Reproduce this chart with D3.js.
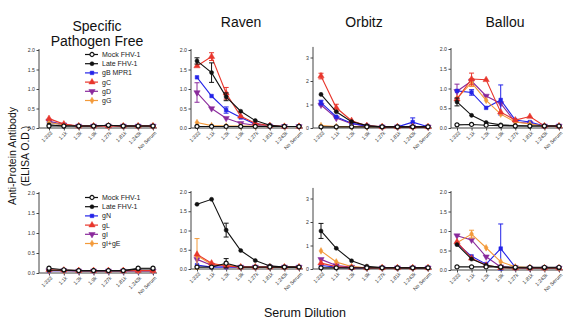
<!DOCTYPE html>
<html>
<head>
<meta charset="utf-8">
<script src="https://cdn.jsdelivr.net/npm/d3@7"></script>
<style>
  body { margin: 0; background: #fff; }
  svg { display: block; font-family: "Liberation Sans", Arial, sans-serif; }
</style>
</head>
<body>
<svg id="chart" width="566" height="322"></svg>
<script>
// dilution categories (x axis)
const dilutions = ["1:333", "1:1k", "1:3k", "1:9k", "1:27k", "1:81k", "1:243k", "No Serum"];

// series names per row
const seriesTop = ["Mock FHV-1", "Late FHV-1", "gB MPR1", "gC", "gD", "gG"];
const seriesBottom = ["Mock FHV-1", "Late FHV-1", "gN", "gL", "gI", "gI+gE"];

const panelTitles = ["Specific|Pathogen Free", "Raven", "Orbitz", "Ballou"];

// values, one row per series (mock, late, then the four proteins)
const spfTop = [
  [0.05, 0.05, 0.05, 0.05, 0.07, 0.05, 0.05, 0.05],
  [0.08, 0.05, 0.05, 0.05, 0.07, 0.05, 0.05, 0.05],
  [0.15, 0.08, 0.05, 0.05, 0.05, 0.05, 0.05, 0.05],
  [0.24, 0.10, 0.05, 0.05, 0.05, 0.05, 0.05, 0.05],
  [0.18, 0.08, 0.05, 0.05, 0.05, 0.05, 0.05, 0.05],
  [0.14, 0.08, 0.05, 0.05, 0.05, 0.05, 0.05, 0.05]
];
const ravenTop = [
  [0.04, 0.04, 0.04, 0.04, 0.04, 0.04, 0.04, 0.04],
  [1.72, 1.42, 0.80, 0.43, 0.19, 0.07, 0.04, 0.04],
  [1.30, 0.82, 0.46, 0.27, 0.10, 0.05, 0.04, 0.04],
  [1.59, 1.83, 0.89, 0.30, 0.12, 0.06, 0.04, 0.04],
  [0.91, 0.50, 0.25, 0.12, 0.07, 0.05, 0.04, 0.04],
  [0.14, 0.06, 0.05, 0.05, 0.05, 0.05, 0.04, 0.04]
];
const orbitzTop = [
  [0.05, 0.05, 0.05, 0.05, 0.05, 0.05, 0.05, 0.05],
  [1.43, 0.69, 0.27, 0.10, 0.05, 0.05, 0.05, 0.05],
  [1.08, 0.48, 0.20, 0.08, 0.05, 0.05, 0.25, 0.05],
  [2.21, 0.86, 0.31, 0.10, 0.05, 0.05, 0.05, 0.05],
  [0.98, 0.42, 0.18, 0.08, 0.05, 0.05, 0.05, 0.05],
  [0.10, 0.06, 0.06, 0.05, 0.05, 0.05, 0.05, 0.05]
];
const ballouTop = [
  [0.08, 0.09, 0.07, 0.06, 0.05, 0.05, 0.05, 0.05],
  [0.66, 0.32, 0.14, 0.08, 0.06, 0.05, 0.05, 0.05],
  [0.94, 0.90, 0.51, 0.71, 0.20, 0.15, 0.05, 0.05],
  [0.73, 1.24, 1.22, 0.40, 0.20, 0.29, 0.05, 0.05],
  [0.93, 1.19, 0.81, 0.62, 0.15, 0.12, 0.05, 0.05],
  [0.75, 1.15, 0.70, 0.35, 0.15, 0.10, 0.05, 0.05]
];
const spfBottom = [
  [0.12, 0.08, 0.06, 0.06, 0.06, 0.06, 0.12, 0.12],
  [0.07, 0.07, 0.06, 0.06, 0.06, 0.06, 0.10, 0.10],
  [0.06, 0.06, 0.05, 0.05, 0.05, 0.05, 0.05, 0.05],
  [0.08, 0.07, 0.06, 0.06, 0.06, 0.06, 0.06, 0.06],
  [0.06, 0.06, 0.05, 0.05, 0.05, 0.05, 0.05, 0.05],
  [0.07, 0.06, 0.06, 0.06, 0.06, 0.06, 0.06, 0.06]
];
const ravenBottom = [
  [0.05, 0.05, 0.15, 0.05, 0.05, 0.05, 0.05, 0.05],
  [1.68, 1.81, 1.01, 0.48, 0.22, 0.08, 0.05, 0.05],
  [0.10, 0.05, 0.05, 0.05, 0.05, 0.05, 0.05, 0.05],
  [0.38, 0.15, 0.08, 0.05, 0.05, 0.05, 0.05, 0.05],
  [0.25, 0.10, 0.07, 0.05, 0.05, 0.05, 0.05, 0.05],
  [0.35, 0.12, 0.10, 0.05, 0.05, 0.05, 0.05, 0.05]
];
const orbitzBottom = [
  [0.05, 0.05, 0.05, 0.05, 0.05, 0.05, 0.05, 0.05],
  [1.62, 0.88, 0.35, 0.12, 0.06, 0.05, 0.05, 0.05],
  [0.15, 0.08, 0.05, 0.05, 0.05, 0.05, 0.05, 0.05],
  [0.25, 0.10, 0.06, 0.05, 0.05, 0.05, 0.05, 0.05],
  [0.41, 0.15, 0.08, 0.05, 0.05, 0.05, 0.05, 0.05],
  [0.77, 0.30, 0.10, 0.05, 0.05, 0.05, 0.05, 0.05]
];
const ballouBottom = [
  [0.08, 0.08, 0.08, 0.08, 0.07, 0.07, 0.07, 0.07],
  [0.65, 0.28, 0.12, 0.06, 0.05, 0.05, 0.05, 0.05],
  [0.68, 0.35, 0.15, 0.55, 0.07, 0.05, 0.05, 0.05],
  [0.72, 0.30, 0.12, 0.06, 0.05, 0.05, 0.05, 0.05],
  [0.88, 0.77, 0.34, 0.08, 0.06, 0.05, 0.05, 0.05],
  [0.70, 0.92, 0.57, 0.21, 0.08, 0.06, 0.05, 0.05]
];

// error bars: [series, point, +/- value]
const ravenTopErr = [[1, 0, 0.08], [1, 1, 0.25], [1, 2, 0.10], [3, 1, 0.10], [3, 2, 0.15], [2, 2, 0.08], [4, 0, 0.25]];
const orbitzTopErr = [[3, 0, 0.12], [3, 1, 0.15], [2, 0, 0.10], [2, 6, 0.18]];
const ballouTopErr = [[1, 0, 0.10], [2, 1, 0.07], [2, 3, 0.38], [3, 1, 0.15], [5, 1, 0.10], [4, 0, 0.18]];
const ravenBottomErr = [[1, 2, 0.18], [0, 2, 0.12], [5, 0, 0.44]];
const orbitzBottomErr = [[1, 0, 0.32]];
const ballouBottomErr = [[2, 3, 0.63], [5, 1, 0.10]];

// y axis ticks
const ticksHalf = [0, 0.5, 1.0, 1.5, 2.0];
const ticksWhole = [0, 1, 2, 3];

const colors = ["#111", "#111", "#2323e8", "#e8362c", "#8a2a9c", "#f39a3a"];
const shapes = [d3.symbolCircle, d3.symbolCircle, d3.symbolSquare, d3.symbolTriangle, d3.symbolTriangle, d3.symbolDiamond];

// panel layout: axis x, first point x, last point x, title x
const cols = [
  { ax: 39, x1: 49, x2: 153, tx: 97 },
  { ax: 191, x1: 197, x2: 299, tx: 241 },
  { ax: 313, x1: 321, x2: 428, tx: 364 },
  { ax: 451, x1: 457, x2: 559, tx: 505 }
];

const panels = [
  { col: 0, y0: 128, y2: 50, vals: spfTop, errs: [], ticks: ticksHalf, max: 2.0, legend: seriesTop },
  { col: 1, y0: 128, y2: 50, vals: ravenTop, errs: ravenTopErr, ticks: ticksHalf, max: 2.0 },
  { col: 2, y0: 128, y2: 57.5, vals: orbitzTop, errs: orbitzTopErr, ticks: ticksWhole, max: 3.0, top: 3.45 },
  { col: 3, y0: 128, y2: 49, vals: ballouTop, errs: ballouTopErr, ticks: ticksHalf, max: 2.0 },
  { col: 0, y0: 273, y2: 193, vals: spfBottom, errs: [], ticks: ticksHalf, max: 2.0, legend: seriesBottom },
  { col: 1, y0: 269, y2: 192, vals: ravenBottom, errs: ravenBottomErr, ticks: ticksHalf, max: 2.0 },
  { col: 2, y0: 269, y2: 198.5, vals: orbitzBottom, errs: orbitzBottomErr, ticks: ticksWhole, max: 3.0, top: 3.45 },
  { col: 3, y0: 270, y2: 192, vals: ballouBottom, errs: ballouBottomErr, ticks: ticksHalf, max: 2.0 }
];

const svg = d3.select("#chart");

function marker(sel, i) {
  sel.append("path")
    .attr("d", d3.symbol().type(shapes[i]).size(i === 3 || i === 4 ? 17 : 13)())
    .attr("transform", i === 4 ? "rotate(180)" : null)
    .attr("fill", i === 0 ? "#fff" : colors[i])
    .attr("stroke", colors[i])
    .attr("stroke-width", i === 0 ? 1.2 : 0.5);
}

panels.forEach(p => {
  const c = cols[p.col];
  const x = d3.scalePoint().domain(dilutions).range([c.x1, c.x2]);
  const y = d3.scaleLinear().domain([0, p.max]).range([p.y0, p.y2]);
  const g = svg.append("g");

  // y axis
  const yAxis = g.append("g")
    .attr("transform", `translate(${c.ax},0)`)
    .call(d3.axisLeft(y).tickValues(p.ticks).tickSize(2.5).tickPadding(1.5)
      .tickFormat(p.max === 3 ? d3.format("d") : d3.format(".1f")));
  if (p.top) {
    yAxis.select(".domain").attr("d", `M0,${y(p.top)}V${p.y0}`);
  } else {
    yAxis.select(".domain").attr("d", `M0,${y(p.max) - 1}V${p.y0}`);
  }

  // x axis
  const xAxis = g.append("g")
    .attr("transform", `translate(0,${p.y0})`)
    .call(d3.axisBottom(x).tickSize(2.5).tickPadding(1));
  xAxis.select(".domain").attr("d", `M${c.ax},0H${c.x2 + 4}`);
  xAxis.selectAll("text")
    .attr("transform", "rotate(-45)")
    .attr("text-anchor", "end")
    .attr("dx", "-0.3em")
    .attr("dy", "0.5em");

  [yAxis, xAxis].forEach(a => {
    a.select(".domain").attr("stroke", "#444").attr("stroke-width", 1);
    a.selectAll(".tick line").attr("stroke", "#444");
    a.selectAll("text").attr("font-size", 5.2).attr("fill", "#333")
      .attr("font-family", "'Liberation Sans', Arial, sans-serif");
  });

  // draw colored series first, then Late, then Mock on top
  const order = [4, 2, 5, 3, 1, 0];
  const line = d3.line().x((d, j) => x(dilutions[j])).y(d => y(d));
  order.forEach(i => {
    const vals = p.vals[i];
    g.append("path")
      .attr("d", line(vals))
      .attr("fill", "none")
      .attr("stroke", colors[i])
      .attr("stroke-width", 1.1);

    p.errs.filter(e => e[0] === i).forEach(e => {
      const px = x(dilutions[e[1]]);
      const lo = y(Math.max(0, vals[e[1]] - e[2]));
      const hi = y(vals[e[1]] + e[2]);
      g.append("path")
        .attr("d", `M${px},${lo}V${hi}M${px - 2.5},${hi}H${px + 2.5}M${px - 2.5},${lo}H${px + 2.5}`)
        .attr("stroke", colors[i])
        .attr("stroke-width", 1)
        .attr("fill", "none");
    });

    vals.forEach((v, j) => {
      g.append("g")
        .attr("transform", `translate(${x(dilutions[j])},${y(v)})`)
        .call(marker, i);
    });
  });

  // legend
  if (p.legend) {
    const top = p.y2 + 4.5;
    p.legend.forEach((name, i) => {
      const ly = top + i * 9.2;
      const lg = svg.append("g").attr("transform", `translate(92,${ly})`);
      lg.append("line").attr("x1", -7).attr("x2", 6)
        .attr("stroke", colors[i]).attr("stroke-width", 1.2);
      lg.append("g").call(marker, i);
      lg.append("text")
        .attr("x", 10).attr("dy", "0.35em")
        .attr("font-size", 7).attr("fill", "#222")
        .text(name);
    });
  }
});

// panel titles
cols.forEach((c, k) => {
  const lines = panelTitles[k].split("|");
  const t = svg.append("text")
    .attr("x", c.tx)
    .attr("y", lines.length > 1 ? 31 : 27)
    .attr("text-anchor", "middle")
    .attr("font-size", 14)
    .attr("fill", "#111");
  lines.forEach((s, j) => {
    t.append("tspan").attr("x", c.tx).attr("dy", j === 0 ? 0 : 14.5).text(s);
  });
});

// axis titles
const yTitle = svg.append("text")
  .attr("transform", "translate(16,156) rotate(-90)")
  .attr("text-anchor", "middle")
  .attr("font-size", 10.5)
  .attr("fill", "#111");
yTitle.append("tspan").attr("x", 0).attr("dy", 0).text("Anti-Protein Antibody");
yTitle.append("tspan").attr("x", 0).attr("dy", 12.5).text("(ELISA O.D.)");

svg.append("text")
  .attr("x", 305)
  .attr("y", 317)
  .attr("text-anchor", "middle")
  .attr("font-size", 12.5)
  .attr("fill", "#111")
  .text("Serum Dilution");
</script>
</body>
</html>
